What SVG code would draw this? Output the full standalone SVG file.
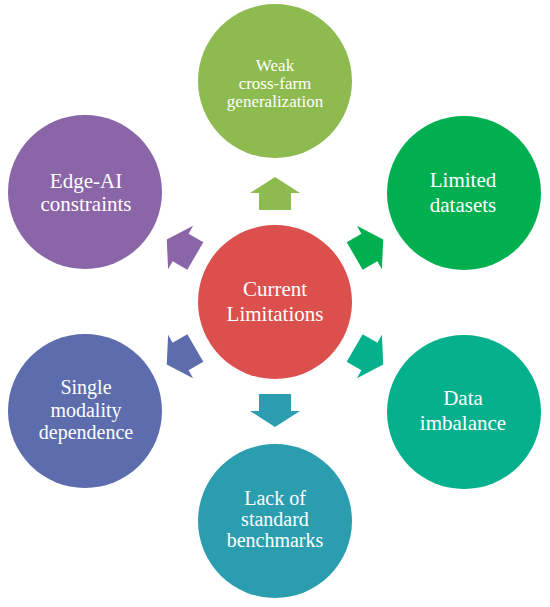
<svg xmlns="http://www.w3.org/2000/svg" width="550" height="607" viewBox="0 0 550 607">
<style>
  text { font-family: "Liberation Serif", "Times New Roman", serif; fill: #ffffff; text-anchor: middle; }
  .t17 { font-size: 17px; }
  .t20 { font-size: 20px; }
  .t21 { font-size: 21px; }
</style>
<defs>
  <path id="arrow" d="M0,-125 L25,-109 L16,-109 L16,-92 L-16,-92 L-16,-109 L-25,-109 Z"/>
</defs>
<rect width="550" height="607" fill="#ffffff"/>
<g id="connectors" transform="translate(275,302)">
  <use href="#arrow" fill="#8DBB4F" transform="rotate(0)"/>
  <use href="#arrow" fill="#00B050" transform="rotate(60)"/>
  <use href="#arrow" fill="#05B08D" transform="rotate(120)"/>
  <use href="#arrow" fill="#2A9EAF" transform="rotate(180)"/>
  <use href="#arrow" fill="#5C6CAC" transform="rotate(240)"/>
  <use href="#arrow" fill="#8A65A7" transform="rotate(300)"/>
</g>
<g id="center">
  <circle cx="275" cy="302" r="77" fill="#DB4F4D"/>
  <text class="t21" x="275" y="296">Current</text>
  <text class="t21" x="275" y="321">Limitations</text>
</g>
<g id="weak-generalization">
  <circle cx="275" cy="81" r="77" fill="#8DBB4F"/>
  <text class="t17" x="275" y="71">Weak</text>
  <text class="t17" x="275" y="89">cross-farm</text>
  <text class="t17" x="275" y="107">generalization</text>
</g>
<g id="limited-datasets">
  <circle cx="464" cy="193" r="77" fill="#00B050"/>
  <text class="t21" x="463" y="187">Limited</text>
  <text class="t21" x="463" y="212">datasets</text>
</g>
<g id="data-imbalance">
  <circle cx="464" cy="412" r="77" fill="#05B08D"/>
  <text class="t21" x="463" y="405">Data</text>
  <text class="t21" x="463" y="430">imbalance</text>
</g>
<g id="lack-benchmarks">
  <circle cx="275" cy="521" r="77" fill="#2A9EAF"/>
  <text class="t20" x="275" y="505">Lack of</text>
  <text class="t20" x="275" y="526">standard</text>
  <text class="t20" x="275" y="547">benchmarks</text>
</g>
<g id="single-modality">
  <circle cx="85" cy="411" r="77" fill="#5C6CAC"/>
  <text class="t20" x="86" y="394">Single</text>
  <text class="t20" x="86" y="417">modality</text>
  <text class="t20" x="86" y="439">dependence</text>
</g>
<g id="edge-ai">
  <circle cx="85" cy="192" r="77" fill="#8A65A7"/>
  <text class="t21" x="86" y="188">Edge-AI</text>
  <text class="t21" x="86" y="211">constraints</text>
</g>
</svg>
